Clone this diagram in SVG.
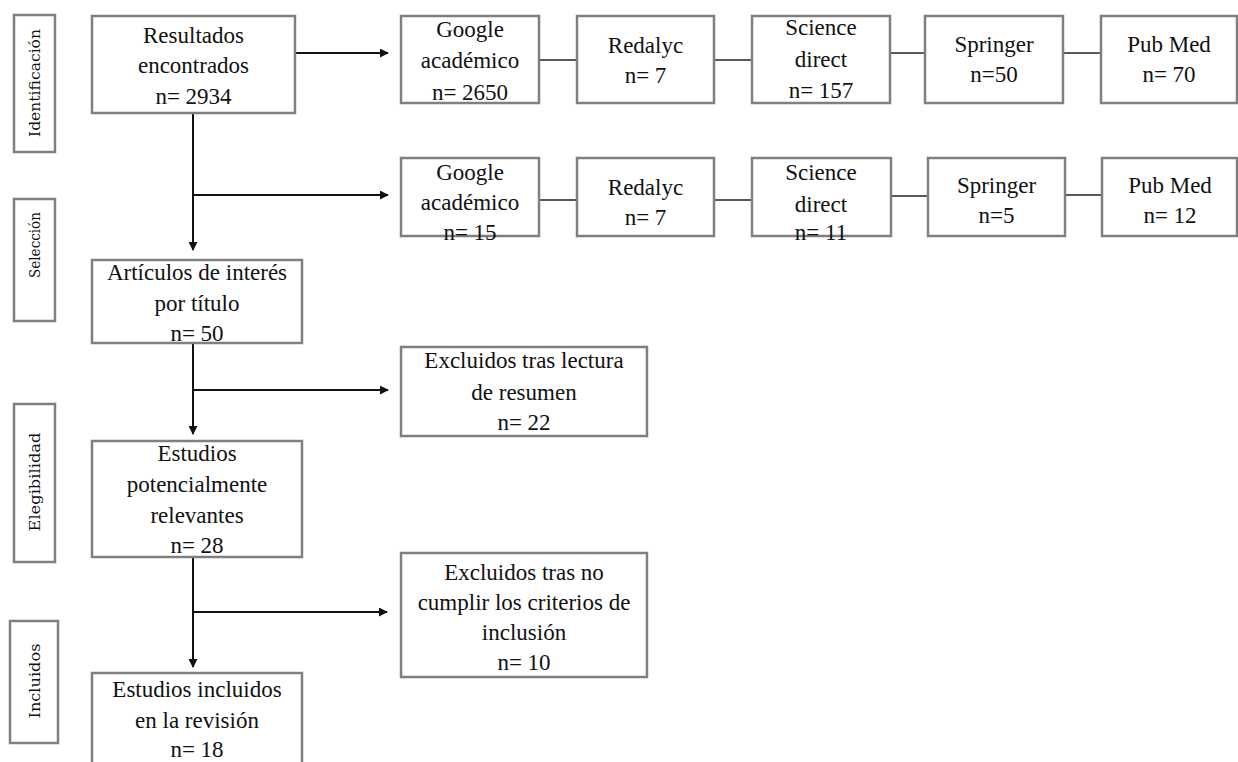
<svg xmlns="http://www.w3.org/2000/svg" width="1238" height="762" viewBox="0 0 1238 762">
<style>
.box{fill:#fff;stroke:#7f7f7f;stroke-width:2.5}
.t{font-family:"Liberation Serif","Times New Roman",serif;font-size:23px;fill:#111;text-anchor:middle}
.s{font-family:"DejaVu Serif",serif;font-size:15px;fill:#111;text-anchor:middle;dominant-baseline:central}
.arr{fill:none;stroke:#111;stroke-width:2;marker-end:url(#ah)}
.ln{fill:none;stroke:#111;stroke-width:2}
.cn{fill:none;stroke:#595959;stroke-width:1.8}
</style>
<defs>
<marker id="ah" viewBox="0 0 10 10" refX="9" refY="5" markerWidth="4.5" markerHeight="4.5" orient="auto" markerUnits="strokeWidth">
<path d="M0,0 L10,5 L0,10 z" fill="#111"/>
</marker>
</defs>
<rect width="1238" height="762" fill="#fff"/>

<g id="connectors">
<path class="arr" d="M295,53 H388"/>
<path class="ln" d="M193,113 V200"/>
<path class="arr" d="M193,195 H388"/>
<path class="arr" d="M193,195 V250"/>
<path class="ln" d="M193,343 V390"/>
<path class="arr" d="M193,390 H388"/>
<path class="arr" d="M193,390 V434"/>
<path class="ln" d="M193,557 V612"/>
<path class="arr" d="M193,612 H387"/>
<path class="arr" d="M193,612 V667"/>
<path class="cn" d="M539,60 H577 M714,60 H752 M890,53 H925 M1063,53 H1101"/>
<path class="cn" d="M539,200 H577 M714,200 H752 M891,196 H928 M1065,195 H1102"/>
</g>

<g id="lbl-identificacion"><rect class="box" x="14" y="15" width="41" height="137"/><text class="s" transform="translate(35,83) rotate(-90)" textLength="108" lengthAdjust="spacingAndGlyphs">Identificación</text></g>
<g id="lbl-seleccion"><rect class="box" x="14" y="199" width="41" height="122"/><text class="s" transform="translate(35,245) rotate(-90)" textLength="66" lengthAdjust="spacingAndGlyphs">Selección</text></g>
<g id="lbl-elegibilidad"><rect class="box" x="14" y="404" width="41" height="158"/><text class="s" transform="translate(35,482) rotate(-90)" textLength="99" lengthAdjust="spacingAndGlyphs">Elegibilidad</text></g>
<g id="lbl-incluidos"><rect class="box" x="10" y="621" width="48" height="122"/><text class="s" transform="translate(35,681) rotate(-90)" textLength="75" lengthAdjust="spacingAndGlyphs">Incluidos</text></g>

<g id="resultados"><rect class="box" x="92" y="16" width="203" height="97"/>
<text class="t" x="193.5" y="43">Resultados</text><text class="t" x="193.5" y="73">encontrados</text><text class="t" x="193.5" y="104">n= 2934</text></g>

<g id="google1"><rect class="box" x="401" y="16" width="138" height="87"/>
<text class="t" x="470" y="37">Google</text><text class="t" x="470" y="68">académico</text><text class="t" x="470" y="100">n= 2650</text></g>
<g id="redalyc1"><rect class="box" x="577" y="16" width="137" height="87"/>
<text class="t" x="645.5" y="53">Redalyc</text><text class="t" x="645.5" y="83">n= 7</text></g>
<g id="science1"><rect class="box" x="752" y="16" width="138" height="87"/>
<text class="t" x="821" y="35">Science</text><text class="t" x="821" y="67">direct</text><text class="t" x="821" y="98">n= 157</text></g>
<g id="springer1"><rect class="box" x="925" y="16" width="138" height="87"/>
<text class="t" x="994" y="52">Springer</text><text class="t" x="994" y="82">n=50</text></g>
<g id="pubmed1"><rect class="box" x="1101" y="16" width="136" height="87"/>
<text class="t" x="1169" y="52">Pub Med</text><text class="t" x="1169" y="82">n= 70</text></g>

<g id="google2"><rect class="box" x="401" y="158" width="138" height="78"/>
<text class="t" x="470" y="180">Google</text><text class="t" x="470" y="210">académico</text><text class="t" x="470" y="240">n= 15</text></g>
<g id="redalyc2"><rect class="box" x="577" y="158" width="137" height="78"/>
<text class="t" x="645.5" y="195">Redalyc</text><text class="t" x="645.5" y="225">n= 7</text></g>
<g id="science2"><rect class="box" x="752" y="158" width="139" height="78"/>
<text class="t" x="821" y="180">Science</text><text class="t" x="821" y="212">direct</text><text class="t" x="821" y="240">n= 11</text></g>
<g id="springer2"><rect class="box" x="928" y="158" width="137" height="78"/>
<text class="t" x="996.5" y="193">Springer</text><text class="t" x="996.5" y="223">n=5</text></g>
<g id="pubmed2"><rect class="box" x="1102" y="158" width="135" height="78"/>
<text class="t" x="1170" y="193">Pub Med</text><text class="t" x="1170" y="223">n= 12</text></g>

<g id="articulos"><rect class="box" x="92" y="260" width="210" height="83"/>
<text class="t" x="197" y="280">Artículos de interés</text><text class="t" x="197" y="311">por título</text><text class="t" x="197" y="341">n= 50</text></g>

<g id="excluidos1"><rect class="box" x="401" y="347" width="246" height="89"/>
<text class="t" x="524" y="368">Excluidos tras lectura</text><text class="t" x="524" y="400">de resumen</text><text class="t" x="524" y="430">n= 22</text></g>

<g id="potenciales"><rect class="box" x="92" y="441" width="210" height="116"/>
<text class="t" x="197" y="461">Estudios</text><text class="t" x="197" y="492">potencialmente</text><text class="t" x="197" y="523">relevantes</text><text class="t" x="197" y="553">n= 28</text></g>

<g id="excluidos2"><rect class="box" x="401" y="553" width="246" height="124"/>
<text class="t" x="524" y="580">Excluidos tras no</text><text class="t" x="524" y="610">cumplir los criterios de</text><text class="t" x="524" y="640">inclusión</text><text class="t" x="524" y="670">n= 10</text></g>

<g id="incluidos"><rect class="box" x="92" y="673" width="210" height="100"/>
<text class="t" x="197" y="697">Estudios incluidos</text><text class="t" x="197" y="728">en la revisión</text><text class="t" x="197" y="757">n= 18</text></g>
</svg>
